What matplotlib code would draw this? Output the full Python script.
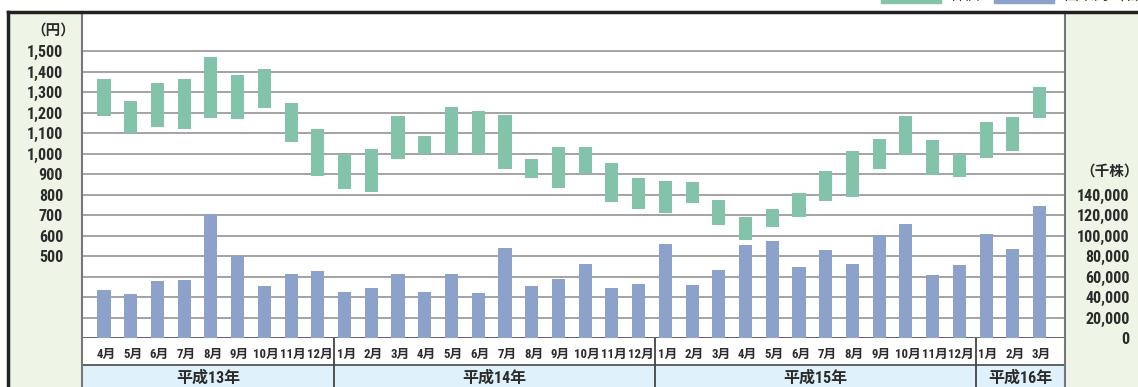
import numpy as np
import matplotlib
matplotlib.use('Agg')
import matplotlib.pyplot as plt
from matplotlib.patches import Rectangle
from matplotlib.lines import Line2D

plt.rcParams['font.family'] = ['Roboto Condensed', 'Noto Sans CJK JP']

# data
years = ['平成13年', '平成14年', '平成15年', '平成16年']
months_per_year = [9, 12, 12, 3]
months = (['4月', '5月', '6月', '7月', '8月', '9月', '10月', '11月', '12月']
          + [f'{m}月' for m in range(1, 13)]
          + [f'{m}月' for m in range(1, 13)]
          + ['1月', '2月', '3月'])

# stock price range (円): monthly high / low
price_high = [1365, 1258, 1346, 1365, 1472, 1385, 1414, 1248, 1122,
              998, 1024, 1185, 1087, 1229, 1209, 1190, 975, 1034, 1034, 956, 883,
              868, 863, 776, 693, 732, 810, 917, 1014, 1073, 1185, 1068, 997,
              1156, 1180, 1326]
price_low = [1186, 1100, 1133, 1123, 1177, 1172, 1225, 1060, 894,
             826, 815, 977, 1000, 998, 998, 928, 884, 831, 904, 763, 729,
             709, 758, 651, 582, 641, 690, 772, 787, 928, 992, 899, 889,
             982, 1016, 1177]
# trading volume (千株)
volume = [47000, 43200, 55800, 56800, 121100, 80200, 51000, 62600, 65600,
          45100, 49000, 62600, 45100, 62600, 44100, 88000, 51000, 57800, 72400, 49000, 52900,
          91900, 51900, 66500, 90900, 94800, 69500, 86000, 72400, 100600, 111400, 61700, 71400,
          101600, 87000, 128900]

green = '#82c3a9'
blue = '#8da2cb'
panel = '#eef4e6'
txt = '#2b2b2b'
W, H = 1138, 387

fig = plt.figure(figsize=(W / 100, H / 100), dpi=100)

x = np.arange(len(months))
xlim = (-0.823, 35.95)
ymax = 1692

# main plot
ax = fig.add_axes([82 / W, 1 - 338.3 / H, 983 / W, 326.3 / H])
ax.set_xlim(*xlim)
ax.set_ylim(100, ymax)
for v in range(200, 1600, 100):
    ax.axhline(v, color='#a3a3a3', lw=1.4, zorder=0)
ax.bar(x, np.array(price_high) - np.array(price_low), bottom=price_low,
       width=0.49, color=green, zorder=2)
ax.set_xticks([])
ax.set_yticks(range(500, 1600, 100))
ax.set_yticklabels([f'{v:,}' for v in range(500, 1600, 100)],
                   fontsize=11.5, fontweight='bold', color=txt)
ax.tick_params(axis='y', length=0, pad=13.5)
ax.spines['top'].set_visible(False)
for s in ['left', 'right']:
    ax.spines[s].set_color('#777777')
    ax.spines[s].set_linewidth(1.5)
ax.spines['bottom'].set_color('#555555')
ax.spines['bottom'].set_linewidth(1.3)

# volume on the right scale
ax2 = ax.twinx()
ax2.set_ylim(0, (ymax - 100) * 200)
ax2.bar(x, volume, width=0.49, color=blue, zorder=2)
ax2.set_yticks(range(0, 160000, 20000))
ax2.set_yticklabels([f'{v:,}' for v in range(0, 160000, 20000)],
                    fontsize=11.5, fontweight='bold', color=txt)
for lbl in ax2.get_yticklabels():
    lbl.set_ha('right')
ax2.tick_params(axis='y', length=0, pad=46.5)
for s in ax2.spines.values():
    s.set_visible(False)

fig.text(53 / W, 1 - 31 / H, '（円）', ha='center', va='center',
         fontsize=10.5, fontweight='bold', color=txt)
fig.text(1139 / W, 1 - 172 / H, '（千株）', ha='right', va='center',
         fontsize=10.5, fontweight='bold', color=txt)

# month / year rows under the chart
bx = fig.add_axes([82 / W, 0, 983 / W, 48.7 / H])
bx.set_xlim(*xlim)
bx.set_ylim(0, 48.7)
bx.axhspan(0, 22, color='#dff1fa', zorder=0)
bx.axhline(22, color='#555555', lw=1.3)
seps = np.cumsum(months_per_year)[:-1] - 0.38
bx.vlines(seps, 0, 48.7, color='#444444', lw=1.3)
for xi, m in zip(x, months):
    bx.text(xi + 0.07, 32.5, m, ha='center', va='center', fontsize=9.2,
            fontweight='bold', color=txt)
bounds = [xlim[0]] + list(seps) + [xlim[1]]
for i, yname in enumerate(years):
    bx.text((bounds[i] + bounds[i + 1]) / 2, 9.5, yname, ha='center', va='center',
            fontsize=11.5, fontweight='bold', color=txt)
bx.set_xticks([])
bx.set_yticks([])
for s in ['top', 'bottom']:
    bx.spines[s].set_visible(False)
for s in ['left', 'right']:
    bx.spines[s].set_color('#777777')
    bx.spines[s].set_linewidth(1.5)

# side panels, frame and the cut-off legend
fig.add_artist(Rectangle((8 / W, 0), 74 / W, 375 / H, transform=fig.transFigure,
                         color=panel, zorder=-5))
fig.add_artist(Rectangle((1065 / W, 0), 73 / W, 375 / H, transform=fig.transFigure,
                         color=panel, zorder=-5))
fig.add_artist(Line2D([8 / W, 1], [1 - 12 / H] * 2, color='#222222', lw=2.5))
fig.add_artist(Line2D([8 / W] * 2, [0, 1 - 12 / H], color='#222222', lw=2.5))

fig.add_artist(Rectangle((881 / W, 1 - 3 / H), 60 / W, 6 / H, transform=fig.transFigure,
                         color=green))
fig.add_artist(Rectangle((994 / W, 1 - 3 / H), 60 / W, 6 / H, transform=fig.transFigure,
                         color=blue))
fig.text(950 / W, 1 - 3 / H, '株価', ha='left', va='bottom', fontsize=11, color=txt)
fig.text(1063 / W, 1 - 3 / H, '出来高（右目盛）', ha='left', va='bottom', fontsize=11,
         color=txt)

fig.savefig('out.png', dpi=100)
